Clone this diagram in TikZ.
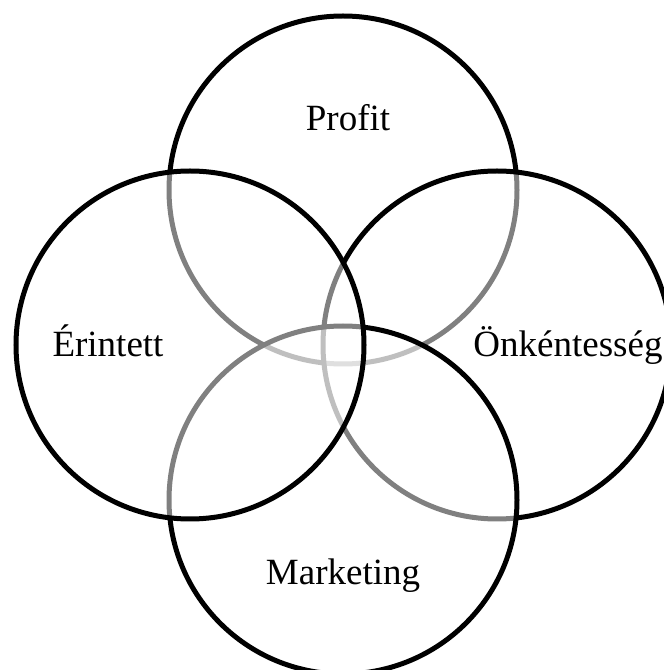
\documentclass[tikz,border=0pt]{standalone}
\usepackage{fontspec}
\setmainfont{Liberation Serif}
\begin{document}
\begin{tikzpicture}[x=1pt,y=1pt,
  venn/.style={circle, draw=black, line width=5pt, fill=white, fill opacity=0.5, draw opacity=1, minimum size=348pt, inner sep=0pt},
  lbl/.style={anchor=base, font=\fontsize{37}{44}\selectfont, text=black}]
  \useasboundingbox (0,0) rectangle (664,670);
  \clip (0,0) rectangle (664,670);
  % four overlapping sets, later circles veil the outlines beneath them
  \node[venn] (profit) at (343,480) {};
  \node[venn] (onkent) at (497,325) {};
  \node[venn] (market) at (343,170) {};
  \node[venn] (erint)  at (190,325) {};
  % set names
  \node[lbl] (tprofit) at (348,539) {Profit};
  \node[lbl] (terint)  at (108,313) {Érintett};
  \node[lbl] (tonkent) at (568,313) {Önkéntesség};
  \node[lbl] (tmarket) at (343,85)  {Marketing};
\end{tikzpicture}
\end{document}
